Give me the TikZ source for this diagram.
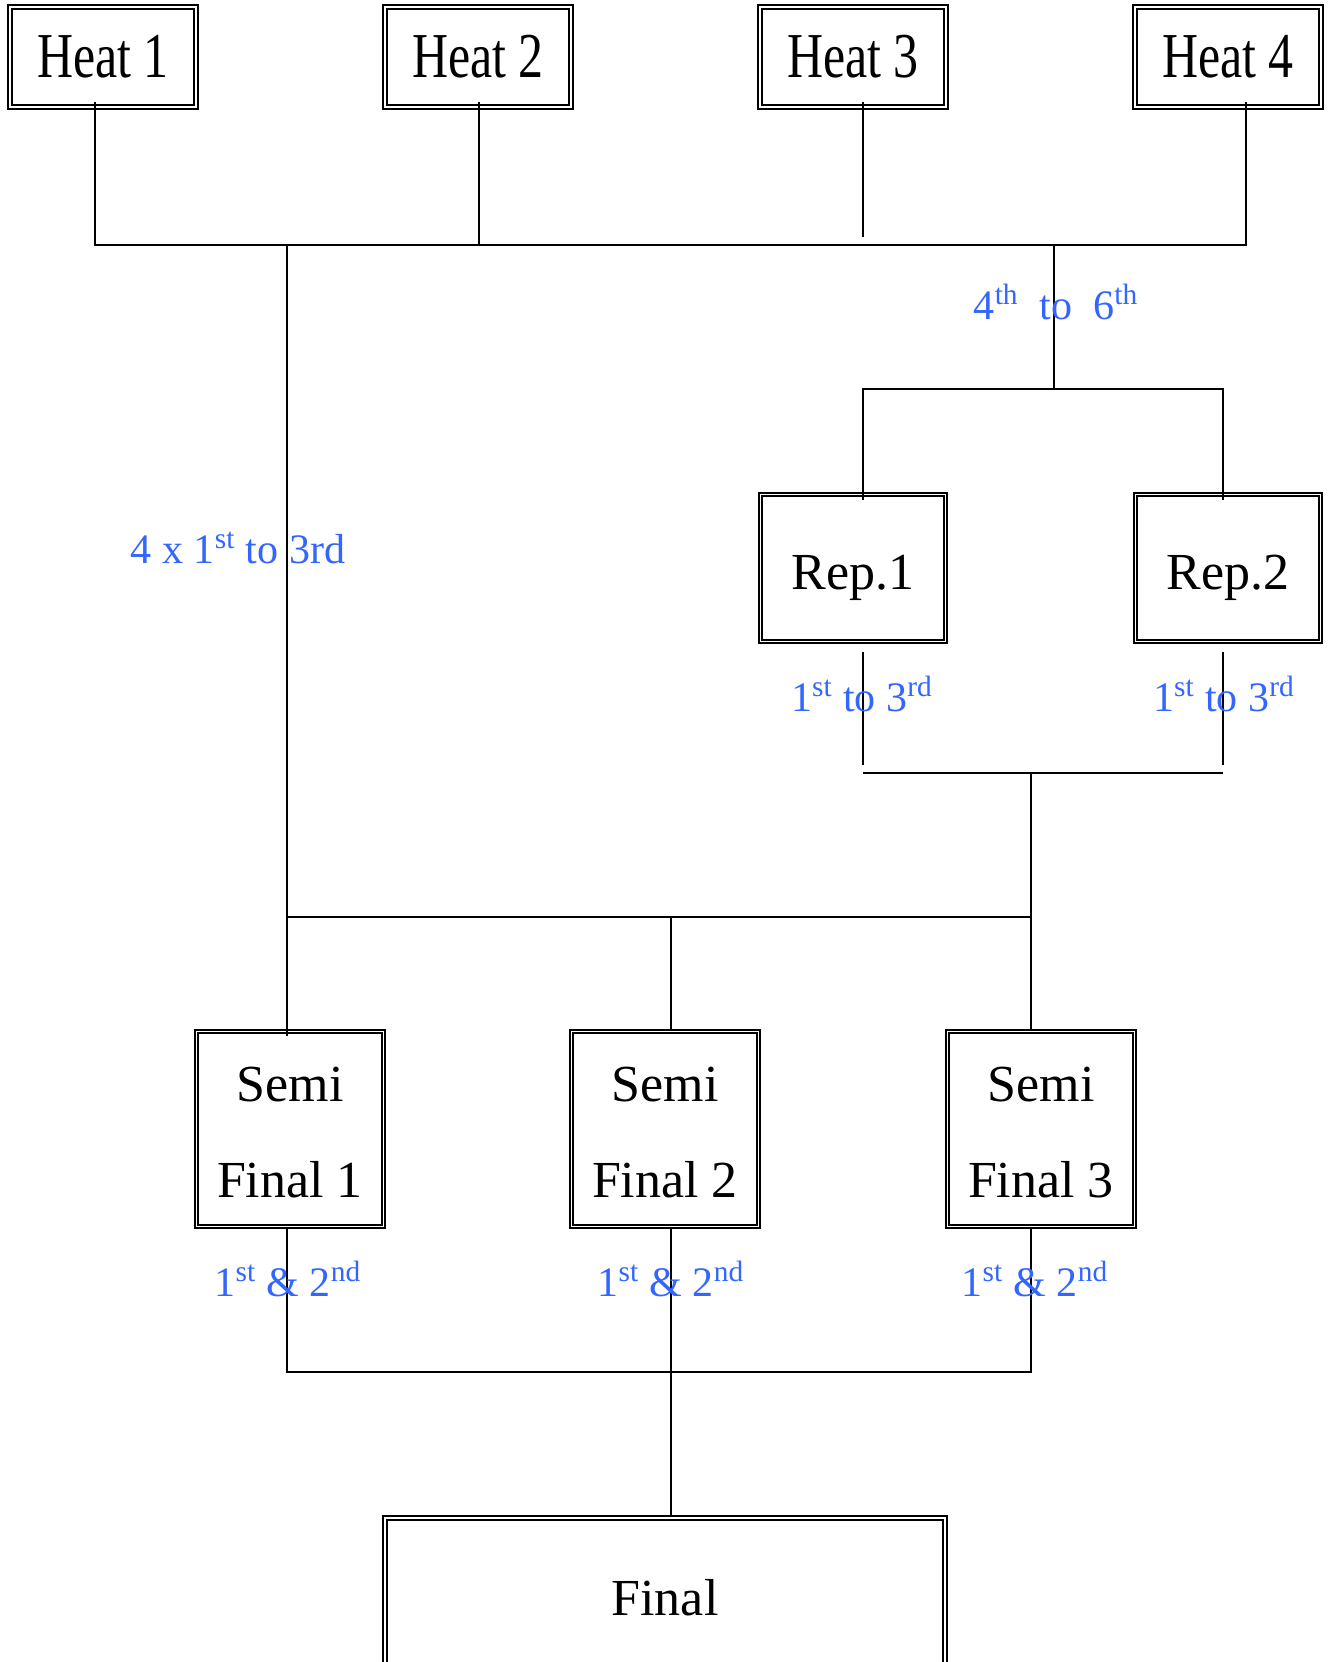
\documentclass[tikz,border=0pt]{standalone}
\usepackage{fontspec}
\setmainfont{Liberation Serif}
\newfontfamily\heatfont[FakeStretch=0.78]{Liberation Serif}
\definecolor{lblblue}{RGB}{51,102,255}
\newcommand\lowertext[2]{\raisebox{-#1}[\height][\depth]{#2}}

\begin{document}
\begin{tikzpicture}[x=0.5pt, y=-0.5pt, line width=0.8pt,
    box/.style={draw, double, double distance=0.9pt, line width=0.9pt, inner sep=0pt,
                align=center, font=\fontsize{26}{48}\selectfont},
    heatbox/.style={box, minimum width=93pt, minimum height=50pt,
                font=\heatfont\fontsize{32}{36}\selectfont},
    repbox/.style={box, minimum width=92.5pt, minimum height=73.5pt},
    semibox/.style={box, minimum width=93.5pt, minimum height=97.5pt},
    lbl/.style={text=lblblue, inner sep=0pt, font=\fontsize{21}{25}\selectfont}]
      \useasboundingbox (0,0) rectangle (1329,1662);
      % heats
      \node[heatbox] (h1) at (103,57) {Heat 1};
      \node[heatbox] (h2) at (478,57) {Heat 2};
      \node[heatbox] (h3) at (853,57) {Heat 3};
      \node[heatbox] (h4) at (1228,57) {Heat 4};
      % repechages, semis, final
      \node[repbox] (r1) at (853,568) {\lowertext{5pt}{Rep.1}};
      \node[repbox] (r2) at (1228,568) {\lowertext{5pt}{Rep.2}};
      \node[semibox] (s1) at (290,1129) {\lowertext{2pt}{Semi}\\\lowertext{2pt}{Final 1}};
      \node[semibox] (s2) at (665,1129) {\lowertext{2pt}{Semi}\\\lowertext{2pt}{Final 2}};
      \node[semibox] (s3) at (1041,1129) {\lowertext{2pt}{Semi}\\\lowertext{2pt}{Final 3}};
      \node[box, minimum width=280pt, minimum height=80pt] (fin) at (665,1598) {Final};

      % junction points
      \coordinate (hj1) at (95,245);
      \coordinate (hj2) at (479,245);
      \coordinate (hj3) at (863,237);
      \coordinate (hj4) at (1246,245);
      \coordinate (qual) at (287,245);
      \coordinate (rep) at (1054,245);
      \coordinate (repj) at (1054,389);
      \coordinate (ra) at (863,389);
      \coordinate (rb) at (1223,389);
      \coordinate (rc) at (863,765);
      \coordinate (rd) at (1223,765);
      \coordinate (re) at (863,773);
      \coordinate (rf) at (1223,773);
      \coordinate (semj) at (1031,773);
      \coordinate (sa) at (287,917);
      \coordinate (sb) at (1031,917);
      \coordinate (sc) at (671,917);
      \coordinate (fa) at (287,1372);
      \coordinate (fb) at (1031,1372);
      \coordinate (fc) at (671,1372);

      % heats to semis and repechages
      \draw ([yshift=3pt]h1.south -| hj1) -- (hj1) -- (hj4) -- ([yshift=3pt]h4.south -| hj4);
      \draw ([yshift=3pt]h2.south -| hj2) -- (hj2);
      \draw ([yshift=3pt]h3.south -| hj3) -- (hj3);
      \draw (qual) -- ([yshift=-2.5pt]s1.north -| qual);
      \draw (rep) -- (repj);
      \draw ([yshift=-3pt]r1.north -| ra) -- (ra) -- (rb) -- ([yshift=-3pt]r2.north -| rb);
      % repechages to semis
      \draw ([yshift=-5pt]r1.south -| rc) -- (rc);
      \draw ([yshift=-5pt]r2.south -| rd) -- (rd);
      \draw (re) -- (rf);
      \draw (semj) -- (s3.north -| semj);
      \draw (sa) -- (sb);
      \draw (sc) -- (s2.north -| sc);
      % semis to final
      \draw (s1.south -| fa) -- (fa) -- (fb) -- (s3.south -| fb);
      \draw (s2.south -| fc) -- (fin.north -| fc);

      % labels
      \node[lbl] (l46) at (1056,302) {4\textsuperscript{th}\ \ to\ \ 6\textsuperscript{th}};
      \node[lbl] (lq) at (238,548) {4 x 1\textsuperscript{st} to 3rd};
      \node[lbl] (lr1) at (862,694) {1\textsuperscript{st} to 3\textsuperscript{rd}};
      \node[lbl] (lr2) at (1224,694) {1\textsuperscript{st} to 3\textsuperscript{rd}};
      \node[lbl] (ls1) at (288,1279) {1\textsuperscript{st} \& 2\textsuperscript{nd}};
      \node[lbl] (ls2) at (671,1279) {1\textsuperscript{st} \& 2\textsuperscript{nd}};
      \node[lbl] (ls3) at (1035,1279) {1\textsuperscript{st} \& 2\textsuperscript{nd}};
    \end{tikzpicture}
\end{document}
